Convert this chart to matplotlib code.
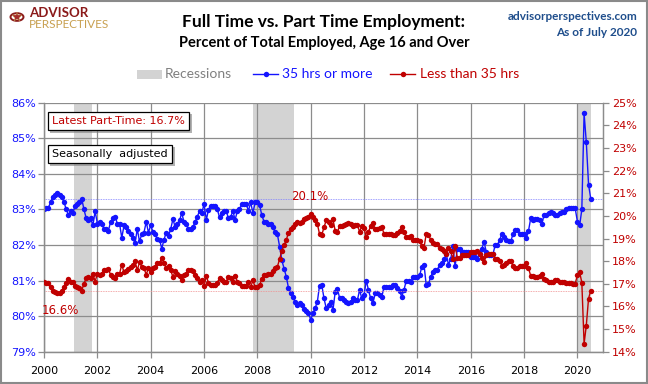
import numpy as np
import pandas as pd
import matplotlib
matplotlib.use('Agg')
import matplotlib.pyplot as plt
import matplotlib.dates as mdates
import matplotlib.patheffects as pe
from matplotlib.lines import Line2D
from matplotlib.patches import Rectangle, Circle

# monthly shares of total employed, Jan 2000 - Jul 2020 (one row per year)
full_time = [
    83.0, 83.05, 83.05, 83.2, 83.35, 83.4, 83.45, 83.4, 83.35, 83.2, 83.0, 82.85,
    82.95, 82.9, 83.1, 83.15, 83.2, 83.3, 83.0, 82.75, 82.7, 82.75, 82.55, 82.95,
    82.6, 82.65, 82.6, 82.45, 82.45, 82.4, 82.65, 82.75, 82.8, 82.6, 82.6, 82.2,
    82.55, 82.5, 82.4, 82.3, 82.2, 82.05, 82.45, 82.1, 82.3, 82.35, 82.65, 82.35,
    82.55, 82.37, 82.3, 82.17, 82.15, 81.9, 82.15, 82.35, 82.25, 82.45, 82.73, 82.5,
    82.6, 82.7, 82.9, 82.65, 82.6, 82.45, 82.45, 82.5, 82.65, 82.8, 82.96, 82.9,
    83.15, 82.7, 82.99, 83.1, 83.1, 83.1, 83.0, 82.78, 82.9, 82.95, 82.95, 82.75,
    82.8, 82.96, 82.7, 82.95, 83.0, 83.15, 83.15, 83.15, 82.96, 83.2, 82.9, 83.2,
    83.2, 83.12, 82.84, 82.66, 82.66, 82.6, 82.6, 82.5, 82.36, 82.3, 81.95, 81.57,
    81.33, 81.1, 80.8, 80.65, 80.55, 80.4, 80.3, 80.36, 80.3, 80.2, 80.15, 80.08,
    79.9, 80.08, 80.22, 80.4, 80.86, 80.88, 80.5, 80.22, 80.3, 80.4, 80.17, 80.67,
    80.77, 80.5, 80.5, 80.45, 80.4, 80.36, 80.4, 80.5, 80.45, 80.45, 80.73, 80.5,
    80.6, 81.0, 80.73, 80.5, 80.36, 80.64, 80.64, 80.6, 80.55, 80.83, 80.83, 80.83,
    80.83, 80.87, 80.87, 80.78, 80.7, 80.55, 80.74, 81.0, 81.0, 80.95, 81.1, 81.1,
    81.1, 81.15, 81.38, 81.45, 80.87, 80.9, 81.1, 81.25, 81.3, 81.3, 81.45, 81.5,
    81.6, 81.74, 81.45, 81.6, 81.97, 81.4, 81.9, 81.9, 81.8, 81.8, 81.8, 81.8,
    81.65, 81.65, 81.65, 81.6, 81.75, 81.9, 82.09, 81.8, 81.72, 81.72, 81.75, 82.0,
    82.0, 82.14, 82.32, 82.23, 82.15, 82.1, 82.1, 82.3, 82.42, 82.42, 82.32, 82.32,
    82.3, 82.2, 82.39, 82.75, 82.7, 82.72, 82.72, 82.7, 82.6, 82.84, 82.84, 82.9,
    82.93, 82.9, 82.84, 82.84, 82.9, 82.93, 82.93, 83.0, 83.03, 83.03, 83.05, 83.03,
    82.65, 82.56, 83.0, 85.7, 84.9, 83.7, 83.3,
]
part_time = [
    17.1, 17.05, 17.05, 16.85, 16.7, 16.65, 16.6, 16.6, 16.7, 16.85, 17.05, 17.2,
    17.1, 17.1, 16.9, 16.85, 16.8, 16.7, 17.0, 17.25, 17.3, 17.25, 17.45, 17.1,
    17.45, 17.4, 17.45, 17.6, 17.6, 17.65, 17.4, 17.3, 17.25, 17.45, 17.45, 17.85,
    17.5, 17.55, 17.65, 17.75, 17.85, 18.0, 17.6, 17.95, 17.75, 17.7, 17.4, 17.7,
    17.5, 17.7, 17.75, 17.9, 17.9, 18.15, 17.9, 17.7, 17.8, 17.6, 17.3, 17.55,
    17.45, 17.35, 17.15, 17.4, 17.45, 17.6, 17.6, 17.55, 17.4, 17.25, 17.1, 17.15,
    16.9, 17.35, 17.05, 16.95, 16.95, 16.95, 17.05, 17.25, 17.15, 17.1, 17.1, 17.3,
    17.25, 17.1, 17.35, 17.1, 17.05, 16.9, 16.9, 16.9, 17.1, 16.85, 17.15, 16.85,
    16.85, 16.95, 17.2, 17.4, 17.4, 17.45, 17.45, 17.55, 17.7, 17.75, 18.1, 18.45,
    18.7, 18.95, 19.25, 19.4, 19.5, 19.65, 19.75, 19.7, 19.75, 19.85, 19.9, 19.95,
    20.1, 19.95, 19.8, 19.65, 19.2, 19.15, 19.5, 19.8, 19.75, 19.6, 19.85, 19.35,
    19.3, 19.55, 19.55, 19.6, 19.65, 19.7, 19.65, 19.55, 19.6, 19.6, 19.3, 19.55,
    19.45, 19.05, 19.3, 19.55, 19.7, 19.4, 19.4, 19.45, 19.5, 19.2, 19.2, 19.2,
    19.2, 19.15, 19.15, 19.25, 19.35, 19.5, 19.3, 19.05, 19.05, 19.1, 18.95, 18.95,
    18.95, 18.9, 18.65, 18.6, 19.2, 19.15, 18.95, 18.8, 18.75, 18.75, 18.6, 18.55,
    18.45, 18.3, 18.6, 18.45, 18.1, 18.65, 18.15, 18.15, 18.25, 18.25, 18.25, 18.25,
    18.4, 18.4, 18.4, 18.45, 18.3, 18.15, 17.95, 18.25, 18.3, 18.3, 18.3, 18.1,
    18.1, 18.0, 17.8, 17.85, 17.9, 18.0, 18.0, 17.8, 17.7, 17.7, 17.8, 17.8,
    17.8, 17.9, 17.7, 17.35, 17.35, 17.3, 17.3, 17.35, 17.45, 17.2, 17.15, 17.1,
    17.1, 17.1, 17.15, 17.15, 17.1, 17.1, 17.1, 17.05, 17.05, 17.03, 17.0, 17.0,
    17.4, 17.5, 17.05, 14.35, 15.15, 16.35, 16.7,
]
months = pd.date_range('2000-01-01', periods=len(full_time), freq='MS')
recessions = [('2001-02-10', '2001-10-25'), ('2007-11-05', '2009-05-20'), ('2020-01-01', '2020-07-01')]
tick_years = list(range(2000, 2021, 2))

BLUE = '#1414FF'
RED = '#C00000'
GRID = '#8C8C8C'
W, H = 648, 384


def fx(px):
    return px / W


def fy(py):
    return 1 - py / H


fig = plt.figure(figsize=(W / 100, H / 100), dpi=100)
fig.patch.set_facecolor('white')
fig.add_artist(Rectangle((0.0015, 0.0025), 0.997, 0.995, transform=fig.transFigure,
                         fill=False, ec='#8a8a8a', lw=1.5))

ax = fig.add_axes([fx(44), fy(351.7), fx(603.3 - 44), (351.7 - 102.7) / H])
ax2 = ax.twinx()

for start, end in recessions:
    ax.axvspan(pd.Timestamp(start), pd.Timestamp(end), color='#D3D3D3', lw=0, zorder=0.2)

ax.plot(months, full_time, color=BLUE, lw=1.0, marker='o', ms=3.9, mew=0, zorder=3)
ax2.plot(months, part_time, color=RED, lw=1.0, marker='o', ms=3.9, mew=0, zorder=3)
ax.axhline(full_time[-1], color='#8080FF', lw=0.6, ls=(0, (1, 1)), zorder=1)
ax2.axhline(part_time[-1], color='#F09090', lw=0.6, ls=(0, (1, 1)), zorder=1)

ax.set_xlim(pd.Timestamp('2000-01-01'), pd.Timestamp('2020-12-20'))
ax.set_ylim(79, 86)
ax2.set_ylim(14, 25)
ax.set_yticks(range(79, 87))
ax2.set_yticks(range(14, 26))
ax.set_yticklabels([f'{v}%' for v in range(79, 87)])
ax2.set_yticklabels([f'{v}%' for v in range(14, 26)])
ax.set_xticks([pd.Timestamp(f'{y}-01-01') for y in tick_years])
ax.xaxis.set_major_formatter(mdates.DateFormatter('%Y'))

ax.grid(True, color=GRID, lw=0.9)
ax.set_axisbelow(True)
for a in (ax, ax2):
    a.spines['top'].set_visible(False)
    for s in ('left', 'right', 'bottom'):
        a.spines[s].set_color(GRID)
        a.spines[s].set_linewidth(0.9)
ax.tick_params(axis='x', colors=GRID, labelcolor='black', labelsize=8, length=4, width=0.9, pad=6)
ax.tick_params(axis='y', colors=GRID, labelcolor=BLUE, labelsize=8, length=4, width=0.9, pad=2)
ax2.tick_params(axis='y', colors=GRID, labelcolor=RED, labelsize=8, length=4, width=0.9, pad=2)

# titles
fig.text(0.5, fy(22), 'Full Time vs. Part Time Employment:', ha='center', va='center',
         fontsize=12.5, fontweight='bold', family='Lato')
fig.text(0.5, fy(43), 'Percent of Total Employed, Age 16 and Over', ha='center', va='center',
         fontsize=10.5, fontweight='bold', family='Lato')
fig.text(fx(637), fy(17), 'advisorperspectives.com', ha='right', va='center',
         fontsize=8.5, fontweight='bold', color='#1F4E8C', family='Lato')
fig.text(fx(637), fy(33), 'As of July 2020', ha='right', va='center',
         fontsize=8.5, fontweight='bold', color='#1F4E8C', family='Lato')

# logo
fig.add_artist(Circle((fx(17), fy(17)), 6.5 / W, transform=fig.transFigure,
                      fill=False, ec='#8B1A1A', lw=1.4))
fig.add_artist(Line2D([fx(17)], [fy(17)], transform=fig.transFigure, marker='*',
                      ms=7, color='#A52A2A', mec='#C8A050', mew=0.3))
fig.text(fx(29), fy(13), 'ADVISOR', ha='left', va='center', fontsize=9.5, fontweight='bold',
         color='#8B1A1A', family='Lato')
fig.text(fx(29), fy(24), 'PERSPECTIVES', ha='left', va='center', fontsize=8.5,
         color='#C8A050', family='Lato')

# legend row
ly = fy(74)
fig.add_artist(Rectangle((fx(137), fy(79)), fx(25), 9 / H, transform=fig.transFigure,
                         color='#D3D3D3', lw=0))
fig.text(fx(165), ly, 'Recessions', ha='left', va='center', fontsize=10, color='#808080', family='Lato')
fig.add_artist(Line2D([fx(253), fx(265.5), fx(278)], [ly, ly, ly], transform=fig.transFigure,
                      color=BLUE, lw=1.0, marker='o', ms=3.9, mew=0, markevery=[1]))
fig.text(fx(282), ly, '35 hrs or more', ha='left', va='center', fontsize=10, color=BLUE, family='Lato')
fig.add_artist(Line2D([fx(390), fx(402.5), fx(415)], [ly, ly, ly], transform=fig.transFigure,
                      color=RED, lw=1.0, marker='o', ms=3.9, mew=0, markevery=[1]))
fig.text(fx(420), ly, 'Less than 35 hrs', ha='left', va='center', fontsize=10, color=RED, family='Lato')

# callouts
shadow = [pe.withSimplePatchShadow(offset=(2, -2), shadow_rgbFace='#808080', alpha=0.6)]
t1 = fig.text(fx(52), fy(121), f'Latest Part-Time: {part_time[-1]:.1f}%', ha='left', va='center',
              fontsize=8, color=RED, family='DejaVu Sans',
              bbox=dict(boxstyle='square,pad=0.4', fc='white', ec='black', lw=0.9))
t1.get_bbox_patch().set_path_effects(shadow)
t2 = fig.text(fx(52), fy(154), 'Seasonally  adjusted', ha='left', va='center',
              fontsize=8, color='black', family='DejaVu Sans',
              bbox=dict(boxstyle='square,pad=0.4', fc='white', ec='black', lw=0.9))
t2.get_bbox_patch().set_path_effects(shadow)

fig.text(fx(42), fy(310), f'{min(part_time[:12]):.1f}%', ha='left', va='center',
         fontsize=8.5, color=RED, family='DejaVu Sans')
fig.text(fx(310), fy(197), f'{max(part_time):.1f}%', ha='center', va='center',
         fontsize=8.5, color=RED, family='DejaVu Sans')

fig.savefig('out.png', dpi=100)
